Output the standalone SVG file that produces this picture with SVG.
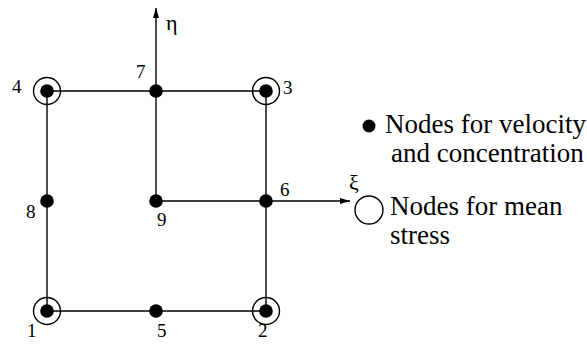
<svg xmlns="http://www.w3.org/2000/svg" width="587" height="344" viewBox="0 0 587 344">
<style>
.ln{stroke:#000;stroke-width:1.4;fill:none}
.dot{fill:#000}
.ring{fill:none;stroke:#000;stroke-width:1.4}
.lbl{font-family:"Liberation Serif",serif;font-size:19px;fill:#000}
.leg{font-family:"Liberation Serif",serif;font-size:27px;fill:#000}
.ax{font-family:"Liberation Serif",serif;font-size:22px;fill:#000}
</style>
<defs>
<marker id="ah" viewBox="0 0 10 6" refX="10" refY="3" markerWidth="10" markerHeight="6" markerUnits="userSpaceOnUse" orient="auto">
<path d="M0,0 L10,3 L0,6 Z" fill="#000"/>
</marker>
</defs>
<g id="connectors">
<path class="ln" d="M47,91 H266 V311 H47 Z"/>
<path class="ln" d="M156,201 V8" marker-end="url(#ah)"/>
<path class="ln" d="M156,201 H350" marker-end="url(#ah)"/>
</g>
<g id="n1"><circle class="ring" cx="47" cy="311" r="13.5"/><circle class="dot" cx="47" cy="311" r="6.8"/><text class="lbl" x="27" y="337">1</text></g>
<g id="n2"><circle class="ring" cx="266" cy="311" r="13.5"/><circle class="dot" cx="266" cy="311" r="6.8"/><text class="lbl" x="258" y="337">2</text></g>
<g id="n3"><circle class="ring" cx="266" cy="91" r="13.5"/><circle class="dot" cx="266" cy="91" r="6.8"/><text class="lbl" x="283" y="94">3</text></g>
<g id="n4"><circle class="ring" cx="47" cy="91" r="13.5"/><circle class="dot" cx="47" cy="91" r="6.8"/><text class="lbl" x="12" y="93">4</text></g>
<g id="n5"><circle class="dot" cx="156" cy="311" r="6.8"/><text class="lbl" x="157" y="337">5</text></g>
<g id="n6"><circle class="dot" cx="266" cy="201" r="6.8"/><text class="lbl" x="280" y="196">6</text></g>
<g id="n7"><circle class="dot" cx="156" cy="91" r="6.8"/><text class="lbl" x="136" y="78">7</text></g>
<g id="n8"><circle class="dot" cx="47" cy="201" r="6.8"/><text class="lbl" x="26" y="218">8</text></g>
<g id="n9"><circle class="dot" cx="156" cy="201" r="6.8"/><text class="lbl" x="157" y="226">9</text></g>
<text class="ax" x="166" y="30">η</text>
<text class="ax" x="349" y="190">ξ</text>
<g id="legend">
<circle class="dot" cx="369" cy="126" r="6.5"/>
<text class="leg" x="385" y="133">Nodes for velocity</text>
<text class="leg" x="391" y="162">and concentration</text>
<circle class="ring" cx="369" cy="210" r="14"/>
<text class="leg" x="390" y="215">Nodes for mean</text>
<text class="leg" x="390" y="244">stress</text>
</g>
</svg>
